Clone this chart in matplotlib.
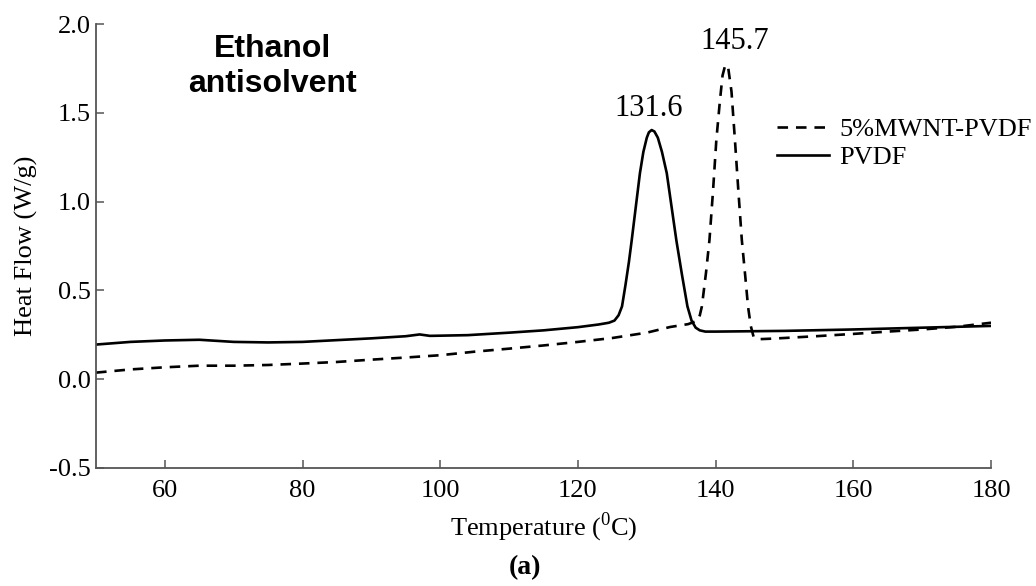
import matplotlib
matplotlib.use("Agg")
import matplotlib.pyplot as plt

plt.rcParams['font.family'] = ['Liberation Serif', 'DejaVu Serif']
plt.rcParams['mathtext.fontset'] = 'custom'
plt.rcParams['mathtext.rm'] = 'Liberation Serif'

# PVDF (solid)
t_pvdf = [50, 55, 60, 65, 70, 75, 80, 85, 90, 95, 97, 98.5, 100, 104, 110, 115,
          120, 123, 124.5, 125.3, 125.9, 126.4, 126.9, 127.4, 127.8, 128.4, 129.0,
          129.5, 130.0, 130.3, 130.7, 131.1, 131.6, 132.2, 132.9, 133.6, 134.3,
          135.1, 135.9, 136.5, 137.1, 137.7, 138.5, 140, 150, 160, 170, 180]
hf_pvdf = [0.195, 0.21, 0.218, 0.222, 0.21, 0.207, 0.21, 0.22, 0.23, 0.242, 0.252,
           0.244, 0.245, 0.248, 0.262, 0.275, 0.293, 0.308, 0.318, 0.33, 0.36, 0.41,
           0.53, 0.66, 0.78, 0.97, 1.16, 1.28, 1.36, 1.39, 1.403, 1.395, 1.36, 1.28,
           1.16, 0.97, 0.78, 0.59, 0.41, 0.33, 0.29, 0.275, 0.268, 0.268, 0.272,
           0.28, 0.29, 0.30]

# 5%MWNT-PVDF (dashed)
t_mwnt = [50, 55, 60, 65, 70, 75, 80, 85, 90, 95, 100, 105, 110, 115, 120, 125,
          130, 133.4, 136, 137.4, 137.7, 138.0, 138.6, 139.1, 139.6, 140.1, 140.6,
          141.0, 141.4, 141.8, 142.3, 142.8, 143.3, 143.8, 144.3, 144.7, 145.1,
          145.5, 146.1, 148, 150, 155, 160, 165, 170, 175, 180]
hf_mwnt = [0.037, 0.055, 0.067, 0.076, 0.076, 0.08, 0.088, 0.097, 0.11, 0.122,
           0.135, 0.155, 0.172, 0.19, 0.21, 0.232, 0.262, 0.294, 0.31, 0.33, 0.36,
           0.41, 0.6, 0.784, 1.05, 1.347, 1.56, 1.71, 1.77, 1.76, 1.62, 1.347, 1.06,
           0.784, 0.58, 0.41, 0.3, 0.24, 0.225, 0.228, 0.232, 0.243, 0.255, 0.268,
           0.28, 0.295, 0.318]

xticks = [60, 80, 100, 120, 140, 160, 180]
yticks = [-0.5, 0.0, 0.5, 1.0, 1.5, 2.0]

fig = plt.figure(figsize=(10.36, 5.86), dpi=100)
ax = fig.add_axes([0.0927, 0.2014, 0.8639, 0.7576])

ax.plot(t_mwnt, hf_mwnt, color='black', lw=1.9, ls=(0, (4, 3)), label='5%MWNT-PVDF')
ax.plot(t_pvdf, hf_pvdf, color='black', lw=1.9, label='PVDF')

ax.set_xlim(50, 180)
ax.set_ylim(-0.5, 2.0)
ax.set_xticks(xticks)
ax.set_yticks(yticks)
ax.set_yticklabels(['-0.5', '0.0', '0.5', '1.0', '1.5', '2.0'])

for s in ['top', 'right']:
    ax.spines[s].set_visible(False)
for s in ['left', 'bottom']:
    ax.spines[s].set_color('#555555')
    ax.spines[s].set_linewidth(1.3)
ax.tick_params(axis='both', direction='in', length=6, width=1.1, color='#555555',
               labelsize=19)
ax.tick_params(axis='x', pad=9)
ax.tick_params(axis='y', pad=4)

ax.set_xlabel(r'Temperature ($^{0}$C)', fontsize=19, labelpad=6)
ax.set_ylabel('Heat Flow (W/g)', fontsize=19, labelpad=8)

ax.text(130.3, 1.527, '131.6', fontsize=22, ha='center', va='center')
ax.text(142.8, 1.90, '145.7', fontsize=22, ha='center', va='center')

ax.text(0.197, 0.905, 'Ethanol\nantisolvent', transform=ax.transAxes,
        family=['Liberation Sans', 'DejaVu Sans'], fontweight='bold', fontsize=23,
        ha='center', va='center', linespacing=1.2)

ax.legend(loc='center left', bbox_to_anchor=(0.761, 0.731), frameon=False,
          fontsize=19, handlelength=1.95, handletextpad=0.4, borderpad=0,
          borderaxespad=0, labelspacing=0.15)

fig.text(0.507, 0.032, '(a)', fontsize=20, fontweight='bold', ha='center', va='center')

fig.savefig('out.png', dpi=100)
